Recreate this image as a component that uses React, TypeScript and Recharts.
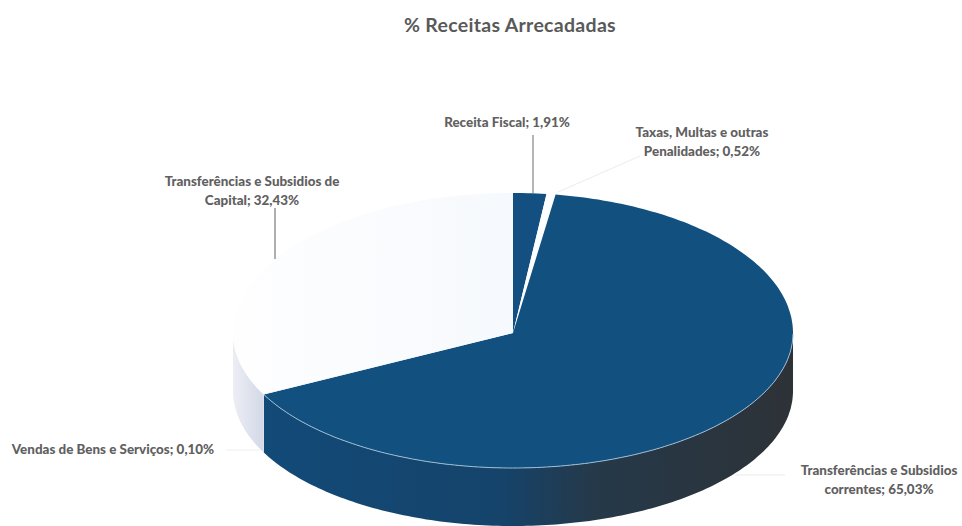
import React from 'react';
import { Cell, Pie, PieChart } from 'recharts';

const categories = [
  'Receita Fiscal',
  'Taxas, Multas e outras Penalidades',
  'Transferências e Subsidios correntes',
  'Vendas de Bens e Serviços',
  'Transferências e Subsidios de Capital',
];
const shares = [1.91, 0.52, 65.03, 0.1, 32.43];
const labelLines = [
  ['Receita Fiscal; 1,91%'],
  ['Taxas, Multas e outras', 'Penalidades; 0,52%'],
  ['Transferências e Subsidios', 'correntes; 65,03%'],
  ['Vendas de Bens e Serviços; 0,10%'],
  ['Transferências e Subsidios de', 'Capital; 32,43%'],
];

const topColors = ['#134f80', '#fdfeff', '#12507f', '#eef2f8', 'url(#capitalTop)'];
const sideColors = ['#134f80', '#e8ecf4', 'url(#correntesSide)', '#dfe3ee', 'url(#capitalSide)'];
const labelPlaces = [
  { x: 507, y: 127 },
  { x: 702, y: 137 },
  { x: 879, y: 475 },
  { x: 113, y: 454 },
  { x: 252, y: 186 },
];
const leaders = [
  { d: 'M533 135 L533 193', stroke: '#6d6d6d' },
  { d: 'M640 156 L558 192', stroke: '#f0ece6' },
  { d: 'M735 475 L785 475', stroke: '#e9ebed' },
  { d: 'M226 450 L260 450', stroke: '#eceef0' },
  { d: 'M275 208 L275 259', stroke: '#5f5f5f' },
];

const data = categories.map((name, i) => ({ name, value: shares[i] }));

const TOP_RY = 140;
const BOTTOM_RY = 135;
const DEPTH = 58;
const FONT = 'Lato, "Open Sans", sans-serif';

// flattens the circular sector from the pie layout to a tilted ellipse
const rimPoints = (cx: number, cy: number, r: number, start: number, end: number) => {
  const steps = Math.max(2, Math.ceil(Math.abs(start - end)));
  const pts: { x: number; y: number; a: number }[] = [];
  for (let i = 0; i <= steps; i++) {
    const a = start + ((end - start) * i) / steps;
    const s = Math.sin((a * Math.PI) / 180);
    pts.push({
      x: cx + r * Math.cos((a * Math.PI) / 180),
      y: cy - s * (s > 0 ? TOP_RY : BOTTOM_RY),
      a: s,
    });
  }
  return pts;
};

const toPath = (pts: { x: number; y: number }[]) =>
  pts.map((p, i) => `${i ? 'L' : 'M'}${p.x.toFixed(1)} ${p.y.toFixed(1)}`).join(' ');

const SliceShape = (props: any) => {
  const { cx, cy, outerRadius, startAngle, endAngle, name, fill } = props;
  const idx = categories.indexOf(name);
  const rim = rimPoints(cx, cy, outerRadius, startAngle, endAngle);
  const front = rim.filter((p) => p.a <= 0.001);
  const shifted = [...front].reverse().map((p) => ({ x: p.x, y: p.y + DEPTH }));
  return (
    <g>
      {front.length > 1 && (
        <path d={`${toPath([...front, ...shifted])} Z`} fill={sideColors[idx]} stroke="none" />
      )}
      <path d={`M${cx} ${cy} ${toPath(rim).replace('M', 'L')} Z`} fill={fill} stroke="none" />
      {front.length > 1 && idx === 2 && (
        <path d={toPath(front)} fill="none" stroke="#9dbdd4" strokeWidth={1} />
      )}
    </g>
  );
};

const renderLabel = (props: any) => {
  const idx = categories.indexOf(props.name);
  const place = labelPlaces[idx];
  return (
    <g key={props.name}>
      <path d={leaders[idx].d} fill="none" stroke={leaders[idx].stroke} strokeWidth={1} />
      <text
        x={place.x}
        y={place.y}
        textAnchor="middle"
        fontFamily={FONT}
        fontSize={13.4}
        fontWeight={900}
        fill="#606060"
      >
        {labelLines[idx].map((line, i) => (
          <tspan key={line} x={place.x} dy={i ? 19 : 0}>
            {line}
          </tspan>
        ))}
      </text>
    </g>
  );
};

export default function App() {
  return (
    <div style={{ position: 'absolute', left: 0, top: 0, width: 962, height: 526, background: '#fff' }}>
      <PieChart width={962} height={526} margin={{ top: 0, right: 0, bottom: 0, left: 0 }}>
        <defs>
          <linearGradient id="correntesSide" x1="0" y1="0" x2="1" y2="0">
            <stop offset="0%" stopColor="#124a78" />
            <stop offset="45%" stopColor="#15436a" />
            <stop offset="62%" stopColor="#25394a" />
            <stop offset="100%" stopColor="#2d3237" />
          </linearGradient>
          <linearGradient id="capitalSide" x1="0" y1="0" x2="1" y2="0">
            <stop offset="0%" stopColor="#eceef5" />
            <stop offset="100%" stopColor="#d3d9e7" />
          </linearGradient>
          <linearGradient id="capitalTop" x1="0" y1="0" x2="1" y2="0">
            <stop offset="0%" stopColor="#fefeff" />
            <stop offset="100%" stopColor="#f6f9fd" />
          </linearGradient>
        </defs>
        <text
          x={510}
          y={32}
          textAnchor="middle"
          fontFamily={FONT}
          fontSize={19.5}
          fontWeight={700}
          letterSpacing={0.3}
          fill="#595959"
        >
          % Receitas Arrecadadas
        </text>
        <Pie
          data={data}
          dataKey="value"
          nameKey="name"
          cx={513}
          cy={333}
          outerRadius={280}
          startAngle={90}
          endAngle={-270}
          stroke="none"
          shape={SliceShape}
          label={renderLabel}
          labelLine={false}
          isAnimationActive={false}
        >
          {data.map((d, i) => (
            <Cell key={d.name} fill={topColors[i]} />
          ))}
        </Pie>
      </PieChart>
    </div>
  );
}
